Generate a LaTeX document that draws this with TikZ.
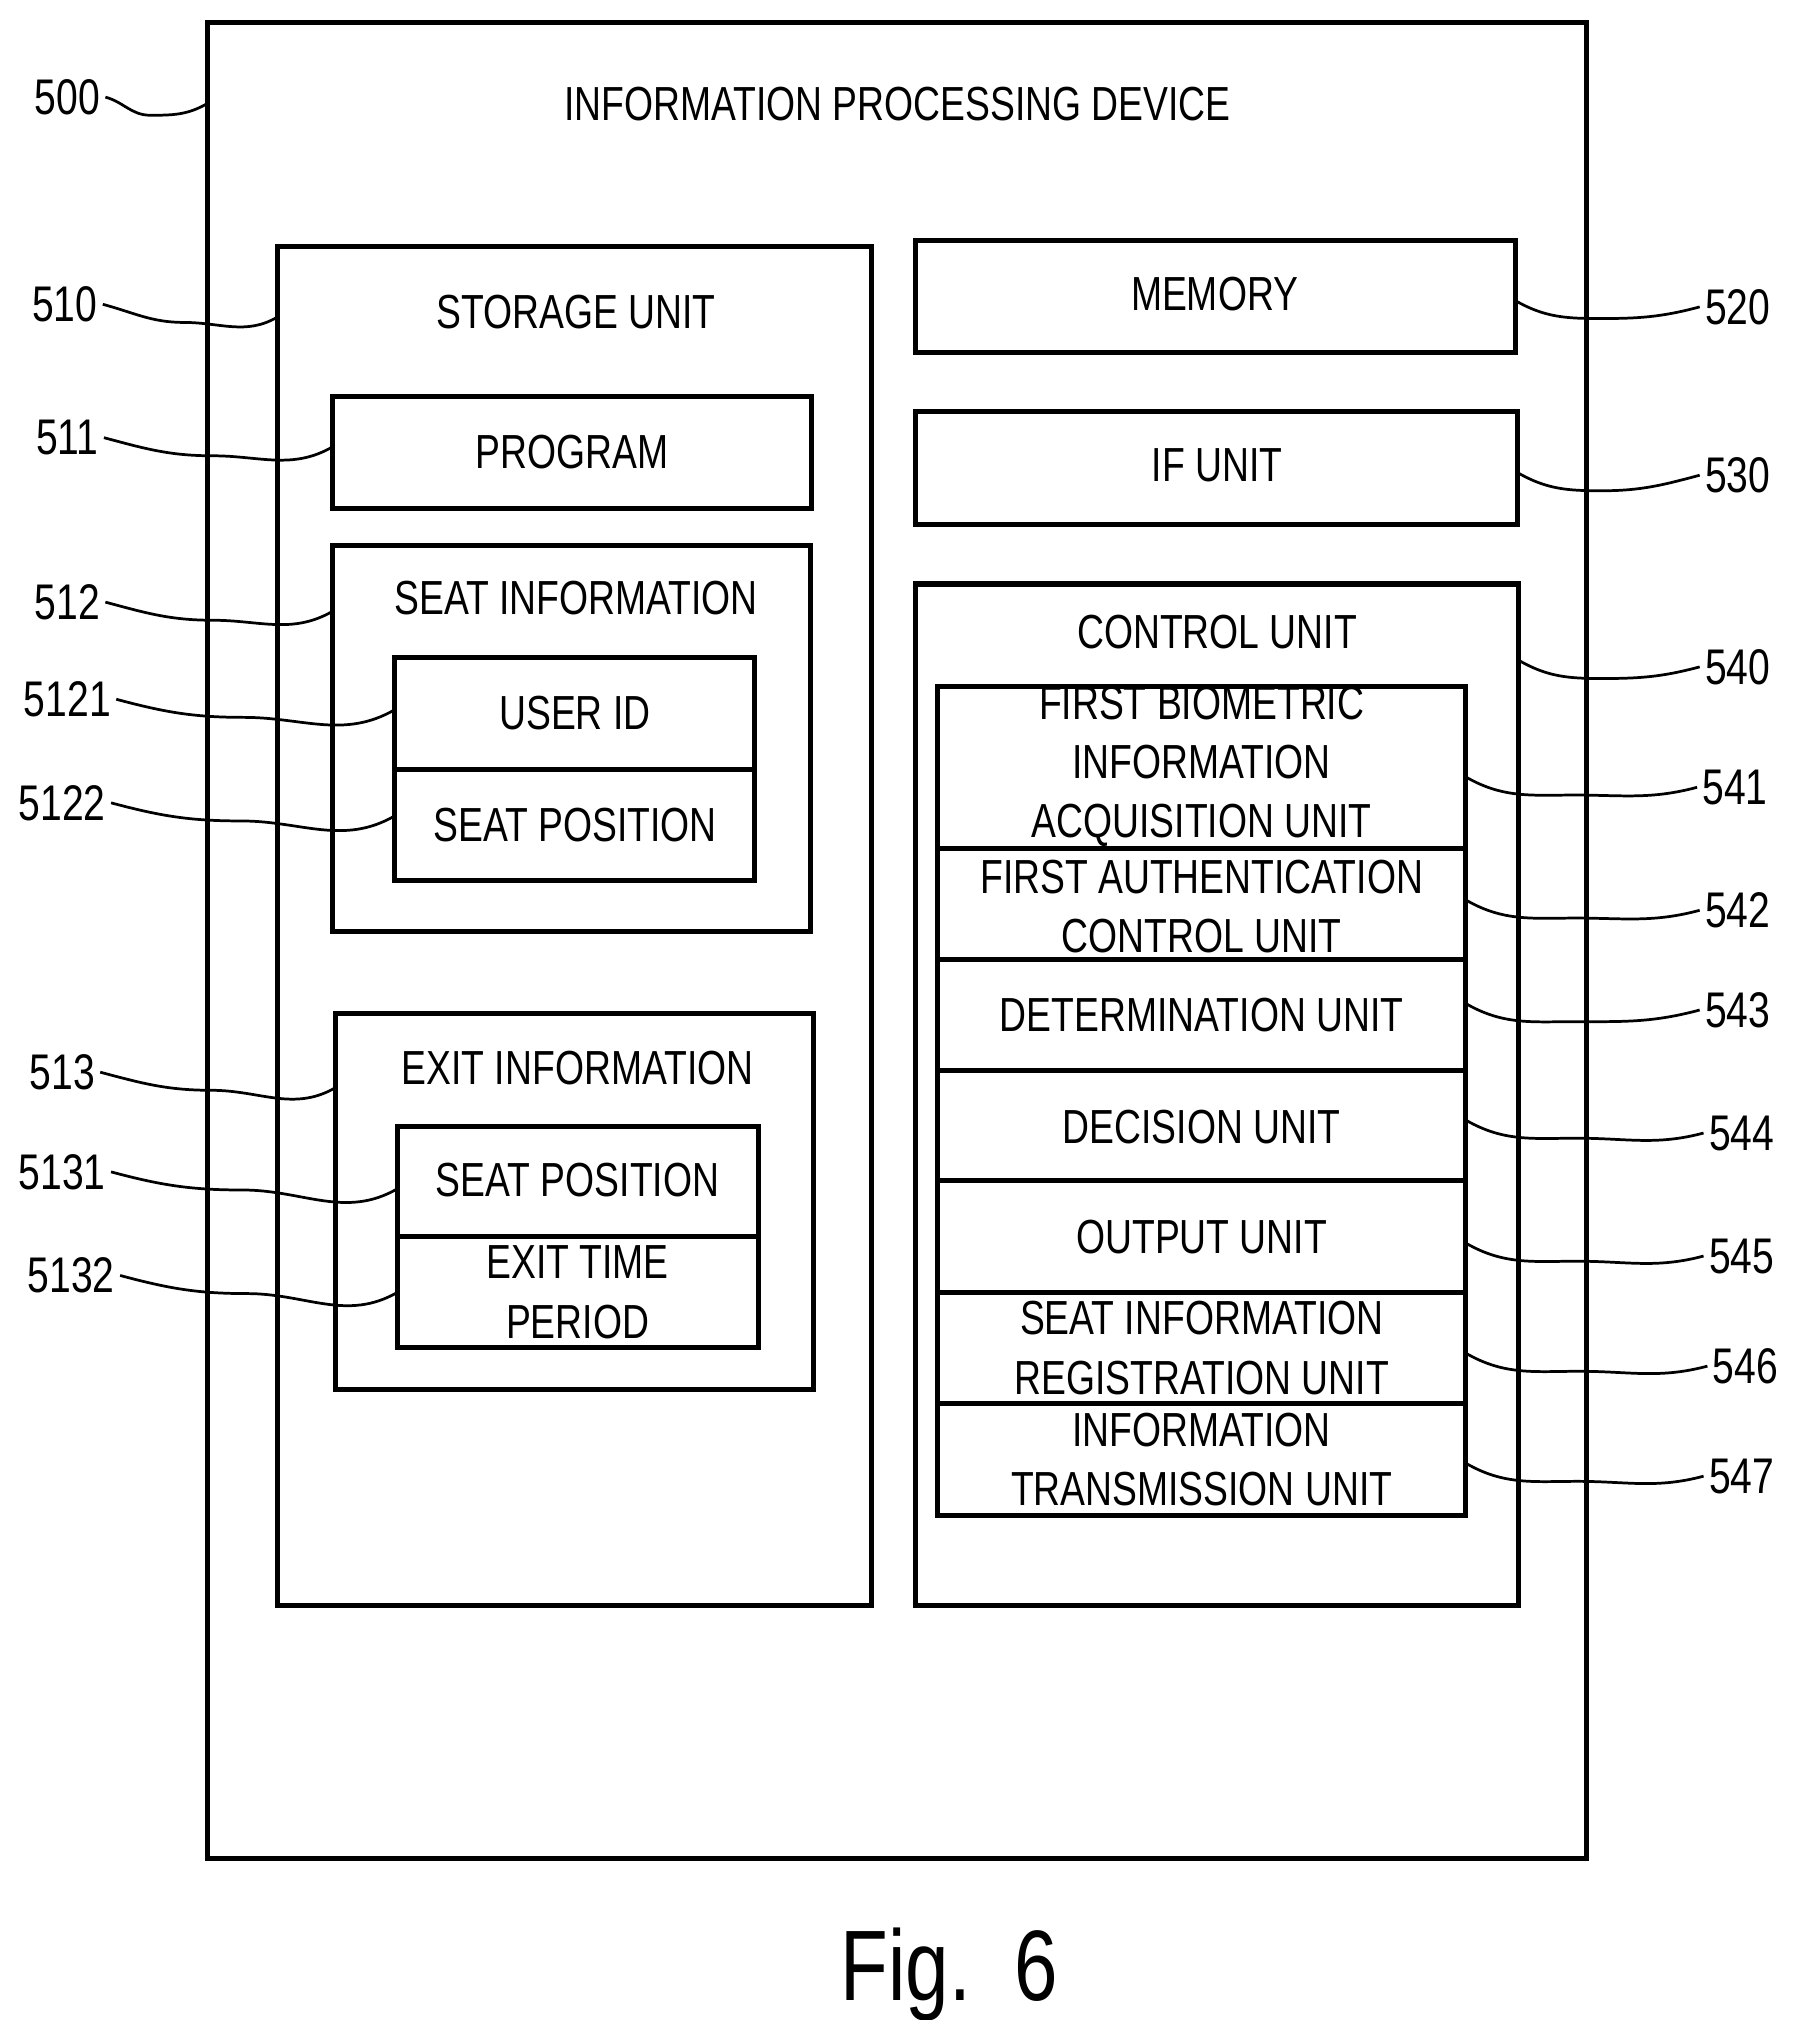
\documentclass[tikz,border=0pt]{standalone}
\usepackage{fontspec}
\setmainfont[FakeStretch=0.78]{Liberation Sans}
\begin{document}
\begin{tikzpicture}[x=0.01cm,y=-0.01cm,
  box/.style={draw,line width=1.1pt},
  txt/.style={font=\fontsize{10.5}{13}\selectfont,align=center},
  lab/.style={font=\fontsize{11}{13}\selectfont,inner sep=1pt},
  lead/.style={line width=0.6pt}]
\useasboundingbox (0,0) rectangle (1385,1560);
\newcommand{\bx}[5]{\draw[box] (#2,#3) rectangle (#4,#5); \coordinate (#1) at (#2,#3);}
\bx{b500}{160}{17}{1225}{1435}
\node[txt] (t500) at (693,80) {INFORMATION PROCESSING DEVICE};
\bx{b510}{214}{190}{673}{1240}
\node[txt] (t510) at (445,241) {STORAGE UNIT};
\bx{b511}{257}{306}{627}{393}
\node[txt] (t511) at (442,349) {PROGRAM};
\bx{b512}{257}{421}{626}{719}
\node[txt] (t512) at (445,462) {SEAT INFORMATION};
\bx{b5121}{305}{508}{583}{594}
\node[txt] (t5121) at (444,551) {USER ID};
\bx{b5122}{305}{594}{583}{680}
\node[txt] (t5122) at (444,637) {SEAT POSITION};
\bx{b513}{259}{783}{628}{1073}
\node[txt] (t513) at (446,825) {EXIT INFORMATION};
\bx{b5131}{307}{870}{586}{955}
\node[txt] (t5131) at (446,911) {SEAT POSITION};
\bx{b5132}{307}{955}{586}{1041}
\node[txt] (t5132) at (446,998) {EXIT TIME\\PERIOD};
\bx{b520}{707}{186}{1170}{272}
\node[txt] (t520) at (938,227) {MEMORY};
\bx{b530}{707}{318}{1172}{405}
\node[txt] (t530) at (940,359) {IF UNIT};
\bx{b540}{707}{451}{1173}{1240}
\node[txt] (t540) at (940,488) {CONTROL UNIT};
\bx{b541}{724}{530}{1132}{655}
\node[txt] (t541) at (928,592) {FIRST BIOMETRIC\\INFORMATION\\ACQUISITION UNIT};
\bx{b542}{724}{655}{1132}{741}
\node[txt] (t542) at (928,700) {FIRST AUTHENTICATION\\CONTROL UNIT};
\bx{b543}{724}{741}{1132}{827}
\node[txt] (t543) at (928,784) {DETERMINATION UNIT};
\bx{b544}{724}{827}{1132}{912}
\node[txt] (t544) at (928,870) {DECISION UNIT};
\bx{b545}{724}{912}{1132}{998}
\node[txt] (t545) at (928,955) {OUTPUT UNIT};
\bx{b546}{724}{998}{1132}{1084}
\node[txt] (t546) at (928,1041) {SEAT INFORMATION\\REGISTRATION UNIT};
\bx{b547}{724}{1084}{1132}{1170}
\node[txt] (t547) at (928,1127) {INFORMATION\\TRANSMISSION UNIT};
\node[font=\fontsize{22}{26}\selectfont] (fig) at (733,1525) {Fig.\ \ 6};
% left labels: name, label pos, attach point
\foreach \n/\lx/\ly/\ax/\ay in {500/52/75/160/80, 510/50/235/214/245, 511/52/338/257/345, 512/52/465/257/472, 5121/52/540/305/548, 5122/48/620/305/630, 513/48/828/259/840, 5131/48/905/307/918, 5132/55/985/307/998}{
  \node[lab] (l\n) at (\lx,\ly) {\n};
  \coordinate (a\n) at (\ax,\ay);
  \coordinate (m\n) at ({(\lx+\ax)/2+10},{\ly+14});
  \draw[lead] (l\n.east) to[out=-15,in=180] (m\n) to[out=0,in=-150] (a\n);
}
\foreach \n/\lx/\ly/\ax/\ay in {520/1342/237/1170/232, 530/1342/367/1172/365, 540/1342/515/1173/510, 541/1340/608/1132/600, 542/1342/703/1132/695, 543/1342/780/1132/775, 544/1345/875/1132/865, 545/1345/970/1132/960, 546/1348/1055/1132/1045, 547/1345/1140/1132/1130}{
  \node[lab] (l\n) at (\lx,\ly) {\n};
  \coordinate (a\n) at (\ax,\ay);
  \coordinate (m\n) at ({(\lx+\ax)/2-20},{\ay+14});
  \draw[lead] (a\n) to[out=-30,in=180] (m\n) to[out=0,in=195] (l\n.west);
}
\end{tikzpicture}
\end{document}
